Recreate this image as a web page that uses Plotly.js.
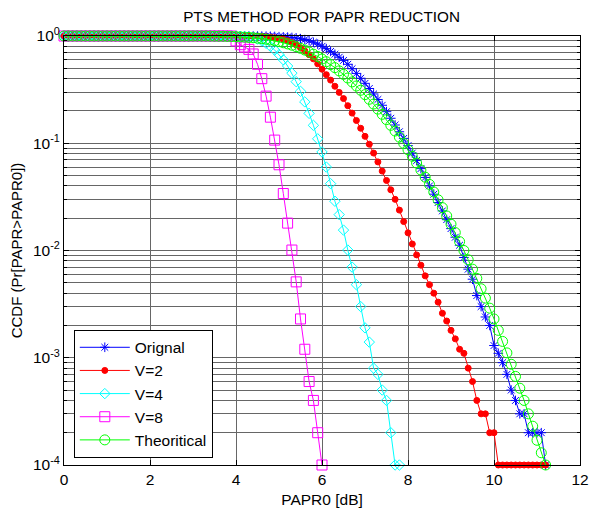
<!DOCTYPE html>
<html>
<head>
<meta charset="utf-8">
<script src="https://cdn.plot.ly/plotly-3.0.1.min.js"></script>
<style>html,body{margin:0;padding:0;background:#fff;}#chart{width:590px;height:508px;}</style>
</head>
<body>
<div id="chart"></div>
<script>
// PAPR0 [dB] sample points (0 : 0.1 : 11.2)
const papr0 = [
0.0,0.1,0.2,0.3,0.4,0.5,0.6,0.7,0.8,0.9,
1.0,1.1,1.2,1.3,1.4,1.5,1.6,1.7,1.8,1.9,
2.0,2.1,2.2,2.3,2.4,2.5,2.6,2.7,2.8,2.9,
3.0,3.1,3.2,3.3,3.4,3.5,3.6,3.7,3.8,3.9,
4.0,4.1,4.2,4.3,4.4,4.5,4.6,4.7,4.8,4.9,
5.0,5.1,5.2,5.3,5.4,5.5,5.6,5.7,5.8,5.9,
6.0,6.1,6.2,6.3,6.4,6.5,6.6,6.7,6.8,6.9,
7.0,7.1,7.2,7.3,7.4,7.5,7.6,7.7,7.8,7.9,
8.0,8.1,8.2,8.3,8.4,8.5,8.6,8.7,8.8,8.9,
9.0,9.1,9.2,9.3,9.4,9.5,9.6,9.7,9.8,9.9,
10.0,10.1,10.2,10.3,10.4,10.5,10.6,10.7,10.8,10.9,
11.0,11.1,11.2];

const original = [
1,1,1,1,1,1,1,1,1,1,
1,1,1,1,1,1,1,1,1,1,
1,1,1,1,1,1,1,1,1,1,
1,1,1,1,1,1,1,1,1,1,
1,1,1,1,1,0.998,0.997,0.995,0.993,0.990,
0.986,0.981,0.976,0.969,0.958,0.944,0.926,0.903,0.874,0.840,
0.802,0.762,0.719,0.676,0.634,0.592,0.545,0.495,0.448,0.404,
0.362,0.324,0.288,0.256,0.226,0.197,0.171,0.148,0.128,0.111,
0.095,0.081,0.069,0.058,0.048,0.040,0.0335,0.0280,0.0234,0.0194,
0.0160,0.0133,0.0112,0.0086,0.0067,0.0054,0.0038,0.0030,0.0024,0.0020,
0.0013,0.0011,0.0009,0.0007,0.0005,0.0004,0.0003,0.0003,0.0002,0.0002,
0.0002,0.0002,0.0001];

const v2 = [
1,1,1,1,1,1,1,1,1,1,
1,1,1,1,1,1,1,1,1,1,
1,1,1,1,1,1,1,1,1,1,
1,1,1,1,1,1,1,1,1,1,
1,1,1,0.998,0.996,0.993,0.989,0.983,0.975,0.964,
0.950,0.930,0.903,0.868,0.826,0.778,0.725,0.670,0.612,0.550,
0.490,0.436,0.388,0.340,0.298,0.261,0.224,0.191,0.163,0.138,
0.116,0.098,0.081,0.067,0.055,0.045,0.0368,0.0300,0.0238,0.0186,
0.0146,0.0115,0.0091,0.0073,0.0058,0.0048,0.0040,0.0033,0.0026,0.0022,
0.0018,0.0015,0.0012,0.0011,0.0008,0.0006,0.0004,0.0003,0.0003,0.0002,
0.0002,0.0001,0.0001,0.0001,0.0001,0.0001,0.0001,0.0001,0.0001,0.0001,
0.0001,0.0001,0.0001];

const v4 = [
1,1,1,1,1,1,1,1,1,1,
1,1,1,1,1,1,1,1,1,1,
1,1,1,1,1,1,1,1,1,1,
1,1,1,1,1,1,1,1,1,1,
0.998,0.995,0.990,0.980,0.962,0.935,0.900,0.855,0.800,0.740,
0.670,0.600,0.525,0.450,0.375,0.305,0.243,0.190,0.147,0.110,
0.083,0.060,0.042,0.0288,0.0216,0.0155,0.0101,0.0070,0.0048,0.0030,
0.0019,0.0014,0.0008,0.0007,0.0005,0.0004,0.0002,0.0001,0.0001];

const v8 = [
1,1,1,1,1,1,1,1,1,1,
1,1,1,1,1,1,1,1,1,1,
1,1,1,1,1,1,1,1,1,1,
1,1,1,1,1,1,1,1,1,1,
0.90,0.83,0.79,0.75,0.68,0.545,0.40,0.275,0.175,0.107,
0.063,0.034,0.018,0.0101,0.0051,0.0023,0.0012,0.0006,0.0004,0.0002,
0.0001];

const theoretical = [
1,1,1,1,1,1,1,1,1,1,
1,1,1,1,1,1,1,1,1,1,
1,1,1,1,1,1,1,1,1,1,
1,1,1,1,0.998,0.996,0.995,0.994,0.991,0.989,
0.986,0.981,0.976,0.970,0.963,0.954,0.944,0.932,0.918,0.903,
0.885,0.865,0.844,0.820,0.795,0.768,0.739,0.709,0.677,0.644,
0.610,0.576,0.541,0.507,0.473,0.439,0.406,0.373,0.342,0.312,
0.284,0.257,0.232,0.208,0.186,0.166,0.147,0.130,0.114,0.0998,
0.0870,0.0756,0.0654,0.0563,0.0483,0.0413,0.0351,0.0297,0.0251,0.0210,
0.0176,0.0147,0.0121,0.0100,0.0082,0.0067,0.0055,0.0044,0.0036,0.0029,
0.0023,0.0018,0.00142,0.00111,0.00087,0.00067,0.00052,0.00040,0.00030,0.00023,
0.00017,0.00013,0.0001];

const seriesNames = ['Orignal','V=2','V=4','V=8','Theoritical'];
const xTickVals = [0,2,4,6,8,10,12];
const yTickVals = [1e-4,1e-3,1e-2,1e-1,1];
const yTickText = ['10<sup>-4</sup>','10<sup>-3</sup>','10<sup>-2</sup>','10<sup>-1</sup>','10<sup>0</sup>'];

const font = 'Liberation Sans, Arial, sans-serif';
function mk(y, name, color, symbol, size) {
  return {
    x: papr0.slice(0, y.length), y: y, name: name, type: 'scatter', mode: 'lines+markers',
    cliponaxis: false,
    line: {color: color, width: 1},
    marker: {symbol: symbol, size: size, color: color, line: {color: color, width: 1}}
  };
}
const traces = [
  mk(original, seriesNames[0], '#0000ff', 'asterisk-open', 8),
  mk(v2, seriesNames[1], '#ff0000', 'circle', 6),
  mk(v4, seriesNames[2], '#00ffff', 'diamond-open', 8),
  mk(v8, seriesNames[3], '#ff00ff', 'square-open', 10),
  mk(theoretical, seriesNames[4], '#00ff00', 'circle-open', 10)
];

const gridColor = '#666666';
const fs = 15.5;
const layout = {
  width: 590, height: 508,
  margin: {l: 64, r: 10, t: 36, b: 43},
  paper_bgcolor: '#fff', plot_bgcolor: '#fff',
  font: {family: font, size: fs, color: '#000'},
  showlegend: true,
  title: {text: 'PTS METHOD FOR PAPR REDUCTION', font: {family: font, size: 15.3, color: '#000'},
          x: 0.545, xref: 'container', y: 1 - 17/508, yref: 'container', yanchor: 'middle'},
  xaxis: {
    range: [0, 12], tickvals: xTickVals, ticktext: xTickVals.map(String),
    showgrid: true, gridcolor: gridColor, gridwidth: 1,
    ticks: 'inside', ticklen: 5, tickcolor: '#000',
    showline: true, linecolor: '#000', linewidth: 1, mirror: 'allticks',
    zeroline: false, tickfont: {size: fs, family: font},
    title: {text: 'PAPR0 [dB]', font: {size: fs, family: font}, standoff: 8}
  },
  yaxis: {
    type: 'log', range: [-4, 0], tickvals: yTickVals, ticktext: yTickText,
    showgrid: true, gridcolor: gridColor, gridwidth: 1,
    ticks: 'inside', ticklen: 5, tickcolor: '#000',
    showline: true, linecolor: '#000', linewidth: 1, mirror: 'allticks',
    zeroline: false, tickfont: {size: fs, family: font},
    minor: {dtick: 'D1', showgrid: true, gridcolor: gridColor, gridwidth: 1, ticks: 'inside', ticklen: 3, tickcolor: '#000'},
    title: {text: 'CCDF (Pr[PAPR>PAPR0])', font: {size: 15, family: font}, standoff: 6}
  },
  legend: {
    x: 0.019, y: 0.017, xanchor: 'left', yanchor: 'bottom',
    bgcolor: '#fff', bordercolor: '#000', borderwidth: 1,
    font: {size: fs, family: font, color: '#000'},
    itemwidth: 50, tracegroupgap: 0
  }
};
Plotly.newPlot('chart', traces, layout, {displayModeBar: false, staticPlot: true});
</script>
</body>
</html>
